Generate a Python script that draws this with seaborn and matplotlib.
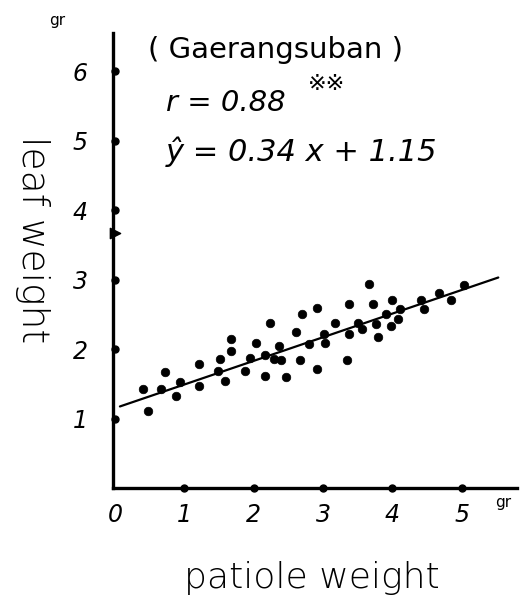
import matplotlib
matplotlib.use("Agg")
import matplotlib.pyplot as plt
import seaborn as sns
import numpy as np
import pandas as pd

# ---- data ----
patiole = [0.41, 0.47, 0.66, 0.72, 0.88, 0.93, 1.21, 1.21, 1.48, 1.52,
           1.59, 1.67, 1.68, 1.88, 1.94, 2.03, 2.16, 2.17, 2.24, 2.29,
           2.37, 2.40, 2.46, 2.61, 2.67, 2.70, 2.80, 2.92, 2.92, 3.01,
           3.03, 3.17, 3.35, 3.38, 3.38, 3.51, 3.57, 3.66, 3.72, 3.76,
           3.79, 3.91, 3.98, 4.00, 4.08, 4.11, 4.41, 4.46, 4.67, 4.85, 5.04]
leaf = [1.42, 1.11, 1.43, 1.67, 1.33, 1.52, 1.78, 1.47, 1.68, 1.85,
        1.54, 2.14, 1.97, 1.68, 1.87, 2.09, 1.91, 1.61, 2.37, 1.85,
        2.04, 1.84, 1.60, 2.25, 1.84, 2.50, 2.07, 2.59, 1.71, 2.22,
        2.09, 2.38, 1.84, 2.65, 2.22, 2.38, 2.29, 2.94, 2.65, 2.36,
        2.17, 2.51, 2.33, 2.71, 2.43, 2.58, 2.71, 2.58, 2.80, 2.71, 2.92]
axis_mark_x = [0.0]
axis_mark_y = [3.67]
slope, intercept = 0.34, 1.15
line_x = [0.07, 5.53]
x_ticks = [1, 2, 3, 4, 5]
x_ticklabels = ["0", "1", "2", "3", "4", "5"]
y_ticks = [1, 2, 3, 4, 5, 6]
y_ticklabels = ["1", "2", "3", "4", "5", "6"]
title_text = "( Gaerangsuban )"
r_text = "r = 0.88"
sig_text = "※※"
eq_text = "ŷ = 0.34 x + 1.15"
xlabel = "patiole weight"
ylabel = "leaf weight"
unit = "gr"

sns.set_theme(style="white")
plt.rcParams["font.family"] = ["DejaVu Sans", "Noto Sans CJK KR"]
plt.rcParams["text.color"] = "black"
plt.rcParams["axes.labelcolor"] = "black"
plt.rcParams["xtick.color"] = "black"
plt.rcParams["ytick.color"] = "black"

W, H = 523, 599
fig = plt.figure(figsize=(W / 100, H / 100), dpi=100)
ax = fig.add_axes([113 / W, 111 / H, 404 / W, 455 / H])

df = pd.DataFrame({"patiole": patiole, "leaf": leaf})
sns.scatterplot(data=df, x="patiole", y="leaf", ax=ax, color="black",
                s=38, edgecolor="black", linewidth=0.5, zorder=3)
lx = np.array(line_x)
sns.lineplot(x=lx, y=slope * lx + intercept, ax=ax, color="black", lw=1.6)
ax.scatter(axis_mark_x, axis_mark_y, marker=">", s=55, color="black",
           clip_on=False, zorder=4)

ax.set_xlim(-0.03, 5.8)
ax.set_ylim(0, 6.55)
for s in ["top", "right"]:
    ax.spines[s].set_visible(False)
for s in ["left", "bottom"]:
    ax.spines[s].set_color("black")
    ax.spines[s].set_linewidth(2.4)

# tick dots on the axes
ax.plot(x_ticks, [0] * len(x_ticks), "o", color="black", ms=5, clip_on=False, zorder=5)
ax.plot([0] * len(y_ticks), y_ticks, "o", color="black", ms=5, clip_on=False, zorder=5)

ax.set_xticks([0] + x_ticks)
ax.set_xticklabels(x_ticklabels, fontsize=17, style="italic")
ax.set_yticks(y_ticks)
ax.set_yticklabels(y_ticklabels, fontsize=17, style="italic")
ax.tick_params(axis="x", length=0, pad=11)
ax.tick_params(axis="y", length=0, pad=18)

ax.set_xlabel(xlabel, fontsize=26, fontweight="light", va="center")
ax.xaxis.set_label_coords((312 - 113) / 404, (488 - 578) / 455)
ax.set_ylabel(ylabel, fontsize=27, fontweight="light", rotation=270, va="center")
ax.yaxis.set_label_coords((32 - 113) / 404, (488 - 240) / 455)

def px(xp, yp):
    return xp / W, 1 - yp / H

fig.text(*px(57, 20), unit, fontsize=11, ha="center", va="center")
fig.text(*px(503, 503), unit, fontsize=11, ha="center", va="center")
fig.text(*px(148, 50), title_text, fontsize=21, ha="left", va="center")
fig.text(*px(166, 103), r_text, fontsize=21, ha="left", va="center", style="italic")
fig.text(*px(308, 84), sig_text, fontsize=16, ha="left", va="center")
fig.text(*px(166, 152), eq_text, fontsize=22, ha="left", va="center", style="italic")

fig.savefig("out.png", dpi=100)
